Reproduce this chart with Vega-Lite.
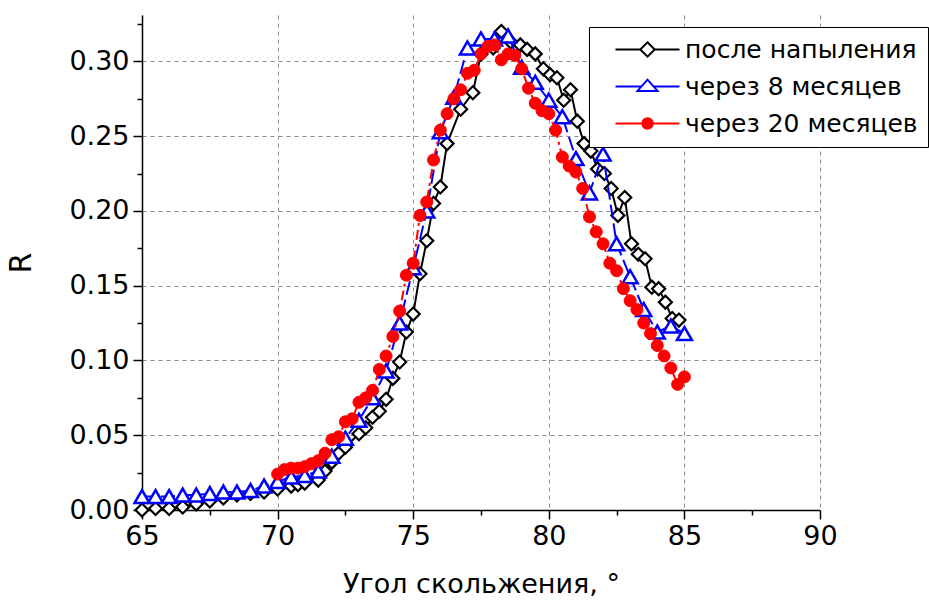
{
  "$schema": "https://vega.github.io/schema/vega-lite/v6.json",
  "width": 678,
  "height": 495,
  "autosize": {"type": "none"},
  "padding": {"left": 142, "top": 15, "right": 109, "bottom": 96},
  "background": "white",
  "config": {
    "view": {"stroke": null},
    "axis": {
      "labelFont": "DejaVu Sans",
      "titleFont": "DejaVu Sans",
      "labelColor": "black",
      "titleColor": "black",
      "domainColor": "black",
      "tickColor": "black",
      "domainWidth": 1.5,
      "tickWidth": 1.5,
      "titleFontWeight": "normal",
      "labelFontSize": 27,
      "titleFontSize": 27,
      "gridColor": "#8c8c8c",
      "gridDash": [4, 4],
      "gridWidth": 1
    }
  },
  "data": {"values": [
    {"s":"a","x":65.0,"y":0.000},{"s":"a","x":65.5,"y":0.001},{"s":"a","x":66.0,"y":0.001},{"s":"a","x":66.5,"y":0.002},
    {"s":"a","x":67.0,"y":0.004},{"s":"a","x":67.5,"y":0.006},{"s":"a","x":68.0,"y":0.008},{"s":"a","x":68.5,"y":0.010},
    {"s":"a","x":69.0,"y":0.011},{"s":"a","x":69.5,"y":0.012},{"s":"a","x":70.0,"y":0.014},{"s":"a","x":70.5,"y":0.016},
    {"s":"a","x":70.75,"y":0.017},{"s":"a","x":71.0,"y":0.018},{"s":"a","x":71.5,"y":0.020},{"s":"a","x":71.75,"y":0.026},
    {"s":"a","x":72.0,"y":0.032},{"s":"a","x":72.25,"y":0.038},{"s":"a","x":72.5,"y":0.042},{"s":"a","x":73.0,"y":0.051},
    {"s":"a","x":73.25,"y":0.055},{"s":"a","x":73.5,"y":0.062},{"s":"a","x":73.75,"y":0.066},{"s":"a","x":74.0,"y":0.074},
    {"s":"a","x":74.25,"y":0.088},{"s":"a","x":74.5,"y":0.099},{"s":"a","x":74.75,"y":0.119},{"s":"a","x":75.0,"y":0.131},
    {"s":"a","x":75.25,"y":0.158},{"s":"a","x":75.5,"y":0.180},{"s":"a","x":75.75,"y":0.205},{"s":"a","x":76.0,"y":0.216},
    {"s":"a","x":76.25,"y":0.245},{"s":"a","x":76.75,"y":0.268},{"s":"a","x":77.2,"y":0.279},{"s":"a","x":77.5,"y":0.305},
    {"s":"a","x":77.95,"y":0.309},{"s":"a","x":78.25,"y":0.320},{"s":"a","x":78.6,"y":0.313},{"s":"a","x":78.95,"y":0.311},
    {"s":"a","x":79.2,"y":0.308},{"s":"a","x":79.5,"y":0.305},{"s":"a","x":79.8,"y":0.295},{"s":"a","x":80.05,"y":0.291},
    {"s":"a","x":80.3,"y":0.289},{"s":"a","x":80.55,"y":0.274},{"s":"a","x":80.8,"y":0.281},{"s":"a","x":81.05,"y":0.260},
    {"s":"a","x":81.3,"y":0.245},{"s":"a","x":81.55,"y":0.240},{"s":"a","x":81.8,"y":0.228},{"s":"a","x":82.05,"y":0.225},
    {"s":"a","x":82.3,"y":0.215},{"s":"a","x":82.55,"y":0.197},{"s":"a","x":82.8,"y":0.209},{"s":"a","x":83.05,"y":0.178},
    {"s":"a","x":83.3,"y":0.171},{"s":"a","x":83.55,"y":0.168},{"s":"a","x":83.8,"y":0.149},{"s":"a","x":84.05,"y":0.148},
    {"s":"a","x":84.3,"y":0.139},{"s":"a","x":84.55,"y":0.128},{"s":"a","x":84.8,"y":0.127},

    {"s":"b","x":65.0,"y":0.009},{"s":"b","x":65.5,"y":0.009},{"s":"b","x":66.0,"y":0.009},{"s":"b","x":66.5,"y":0.010},
    {"s":"b","x":67.0,"y":0.010},{"s":"b","x":67.5,"y":0.011},{"s":"b","x":68.0,"y":0.012},{"s":"b","x":68.5,"y":0.012},
    {"s":"b","x":69.0,"y":0.013},{"s":"b","x":69.5,"y":0.016},{"s":"b","x":70.0,"y":0.019},{"s":"b","x":70.5,"y":0.022},
    {"s":"b","x":71.0,"y":0.023},{"s":"b","x":71.5,"y":0.026},{"s":"b","x":72.0,"y":0.036},{"s":"b","x":72.5,"y":0.048},
    {"s":"b","x":73.0,"y":0.060},{"s":"b","x":73.5,"y":0.075},{"s":"b","x":74.0,"y":0.093},{"s":"b","x":74.5,"y":0.125},
    {"s":"b","x":75.0,"y":0.162},{"s":"b","x":75.5,"y":0.200},{"s":"b","x":76.0,"y":0.253},{"s":"b","x":76.5,"y":0.276},
    {"s":"b","x":77.0,"y":0.309},{"s":"b","x":77.5,"y":0.315},{"s":"b","x":78.0,"y":0.315},{"s":"b","x":78.5,"y":0.317},
    {"s":"b","x":79.0,"y":0.296},{"s":"b","x":79.5,"y":0.286},{"s":"b","x":80.0,"y":0.274},{"s":"b","x":80.5,"y":0.263},
    {"s":"b","x":81.0,"y":0.235},{"s":"b","x":81.5,"y":0.212},{"s":"b","x":82.0,"y":0.238},{"s":"b","x":82.5,"y":0.178},
    {"s":"b","x":83.0,"y":0.156},{"s":"b","x":83.5,"y":0.134},{"s":"b","x":84.0,"y":0.119},{"s":"b","x":84.5,"y":0.123},
    {"s":"b","x":85.0,"y":0.118},

    {"s":"c","x":70.0,"y":0.024},{"s":"c","x":70.25,"y":0.027},{"s":"c","x":70.5,"y":0.028},{"s":"c","x":70.75,"y":0.028},
    {"s":"c","x":71.0,"y":0.029},{"s":"c","x":71.25,"y":0.031},{"s":"c","x":71.5,"y":0.033},{"s":"c","x":71.75,"y":0.038},
    {"s":"c","x":72.0,"y":0.047},{"s":"c","x":72.25,"y":0.049},{"s":"c","x":72.5,"y":0.059},{"s":"c","x":72.75,"y":0.061},
    {"s":"c","x":73.0,"y":0.072},{"s":"c","x":73.25,"y":0.075},{"s":"c","x":73.5,"y":0.080},{"s":"c","x":73.75,"y":0.094},
    {"s":"c","x":74.0,"y":0.103},{"s":"c","x":74.25,"y":0.116},{"s":"c","x":74.5,"y":0.133},{"s":"c","x":74.75,"y":0.157},
    {"s":"c","x":75.0,"y":0.165},{"s":"c","x":75.25,"y":0.197},{"s":"c","x":75.5,"y":0.206},{"s":"c","x":75.75,"y":0.234},
    {"s":"c","x":76.0,"y":0.254},{"s":"c","x":76.25,"y":0.265},{"s":"c","x":76.5,"y":0.275},{"s":"c","x":76.75,"y":0.281},
    {"s":"c","x":77.0,"y":0.292},{"s":"c","x":77.25,"y":0.294},{"s":"c","x":77.5,"y":0.305},{"s":"c","x":77.75,"y":0.310},
    {"s":"c","x":78.0,"y":0.311},{"s":"c","x":78.25,"y":0.301},{"s":"c","x":78.5,"y":0.305},{"s":"c","x":78.75,"y":0.304},
    {"s":"c","x":79.0,"y":0.295},{"s":"c","x":79.25,"y":0.282},{"s":"c","x":79.5,"y":0.272},{"s":"c","x":79.75,"y":0.267},
    {"s":"c","x":80.0,"y":0.265},{"s":"c","x":80.25,"y":0.254},{"s":"c","x":80.5,"y":0.236},{"s":"c","x":80.75,"y":0.230},
    {"s":"c","x":81.0,"y":0.226},{"s":"c","x":81.25,"y":0.215},{"s":"c","x":81.5,"y":0.196},{"s":"c","x":81.75,"y":0.186},
    {"s":"c","x":82.0,"y":0.178},{"s":"c","x":82.25,"y":0.165},{"s":"c","x":82.5,"y":0.160},{"s":"c","x":82.75,"y":0.148},
    {"s":"c","x":83.0,"y":0.140},{"s":"c","x":83.25,"y":0.134},{"s":"c","x":83.5,"y":0.125},{"s":"c","x":83.75,"y":0.118},
    {"s":"c","x":84.0,"y":0.110},{"s":"c","x":84.25,"y":0.103},{"s":"c","x":84.5,"y":0.095},{"s":"c","x":84.75,"y":0.084},
    {"s":"c","x":85.0,"y":0.089}
  ]},
  "resolve": {"axis": {"x": "independent", "y": "independent"}},
  "layer": [
    {
      "transform": [{"filter": "datum.s == 'a'"}],
      "mark": {"type": "line", "color": "black", "strokeWidth": 2},
      "encoding": {
        "x": {"field": "x", "type": "quantitative", "scale": {"domain": [65, 90], "nice": false, "zero": false},
              "axis": {"orient": "bottom", "values": [65, 70, 75, 80, 85, 90], "tickSize": 9, "labelPadding": 4,
                       "grid": true, "title": "Угол скольжения, °", "titlePadding": 22, "labelFlush": false}},
        "y": {"field": "y", "type": "quantitative", "scale": {"domain": [0, 0.331], "nice": false},
              "axis": {"orient": "left", "values": [0, 0.05, 0.1, 0.15, 0.2, 0.25, 0.3], "format": ".2f", "tickSize": 9,
                       "labelPadding": 4, "grid": true, "title": "R", "titlePadding": 32, "titleFontSize": 30}}
      }
    },
    {
      "transform": [{"filter": "datum.s == 'a'"}],
      "mark": {"type": "point", "shape": "diamond", "size": 169, "stroke": "black", "strokeWidth": 2.2, "fill": "white", "fillOpacity": 1, "opacity": 1},
      "encoding": {
        "x": {"field": "x", "type": "quantitative", "scale": {"domain": [65, 90], "nice": false, "zero": false},
              "axis": {"orient": "bottom", "values": [67.5, 72.5, 77.5, 82.5, 87.5], "tickSize": 5, "labels": false,
                       "domain": false, "grid": false, "title": null}},
        "y": {"field": "y", "type": "quantitative", "scale": {"domain": [0, 0.331], "nice": false},
              "axis": {"orient": "left", "values": [0.025, 0.075, 0.125, 0.175, 0.225, 0.275, 0.325], "tickSize": 5,
                       "labels": false, "domain": false, "grid": false, "title": null}}
      }
    },
    {
      "transform": [{"filter": "datum.s == 'b'"}],
      "mark": {"type": "line", "color": "#0000ff", "strokeWidth": 2, "strokeDash": [14, 5]},
      "encoding": {
        "x": {"field": "x", "type": "quantitative", "scale": {"domain": [65, 90], "nice": false, "zero": false}, "axis": null},
        "y": {"field": "y", "type": "quantitative", "scale": {"domain": [0, 0.331], "nice": false}, "axis": null}
      }
    },
    {
      "transform": [{"filter": "datum.s == 'b'"}],
      "mark": {"type": "point", "shape": "triangle-up", "size": 225, "stroke": "#0000ff", "strokeWidth": 2.5, "fill": "white", "fillOpacity": 1, "opacity": 1},
      "encoding": {
        "x": {"field": "x", "type": "quantitative", "scale": {"domain": [65, 90], "nice": false, "zero": false}, "axis": null},
        "y": {"field": "y", "type": "quantitative", "scale": {"domain": [0, 0.331], "nice": false}, "axis": null}
      }
    },
    {
      "transform": [{"filter": "datum.s == 'c'"}],
      "mark": {"type": "line", "color": "#ff0000", "strokeWidth": 2, "strokeDash": [10, 4, 3, 4]},
      "encoding": {
        "x": {"field": "x", "type": "quantitative", "scale": {"domain": [65, 90], "nice": false, "zero": false}, "axis": null},
        "y": {"field": "y", "type": "quantitative", "scale": {"domain": [0, 0.331], "nice": false}, "axis": null}
      }
    },
    {
      "transform": [{"filter": "datum.s == 'c'"}],
      "mark": {"type": "point", "shape": "circle", "size": 144, "stroke": "#ff0000", "strokeWidth": 1, "fill": "#ff0000", "fillOpacity": 1, "opacity": 1},
      "encoding": {
        "x": {"field": "x", "type": "quantitative", "scale": {"domain": [65, 90], "nice": false, "zero": false}, "axis": null},
        "y": {"field": "y", "type": "quantitative", "scale": {"domain": [0, 0.331], "nice": false}, "axis": null}
      }
    },
    {
      "mark": {"type": "point", "opacity": 0},
      "encoding": {
        "color": {"field": "s", "type": "nominal", "title": null,
                  "scale": {"domain": ["a", "b", "c"], "range": ["black", "#0000ff", "#ff0000"]}},
        "shape": {"field": "s", "type": "nominal", "title": null,
                  "scale": {"domain": ["a", "b", "c"], "range": [
                    "M-4,0H-0.9M0.9,0H4M0,-0.9L0.9,0L0,0.9L-0.9,0Z",
                    "M-4,0H-0.76M0.76,0H4M0,-0.85L1.25,0.55L-1.25,0.55Z",
                    "M-4,0H-0.65M0.65,0H4M0.65,0A0.65,0.65,0,1,1,-0.65,0A0.65,0.65,0,1,1,0.65,0M0.4,0A0.4,0.4,0,1,1,-0.4,0A0.4,0.4,0,1,1,0.4,0M0.15,0A0.15,0.15,0,1,1,-0.15,0A0.15,0.15,0,1,1,0.15,0"
                  ]},
                  "legend": {
                    "orient": "none", "legendX": 447, "legendY": 12,
                    "labelExpr": "datum.label == 'a' ? 'после напыления' : datum.label == 'b' ? 'через 8 месяцев' : 'через 20 месяцев'",
                    "labelFont": "DejaVu Sans", "labelFontSize": 25, "labelColor": "black", "labelLimit": 400,
                    "symbolSize": 256, "symbolStrokeWidth": 2, "symbolOpacity": 1,
                    "symbolOffset": 36, "labelOffset": 25, "padding": 10, "rowPadding": 11,
                    "strokeColor": "black", "fillColor": "white", "cornerRadius": 0
                  }}
      }
    }
  ]
}
